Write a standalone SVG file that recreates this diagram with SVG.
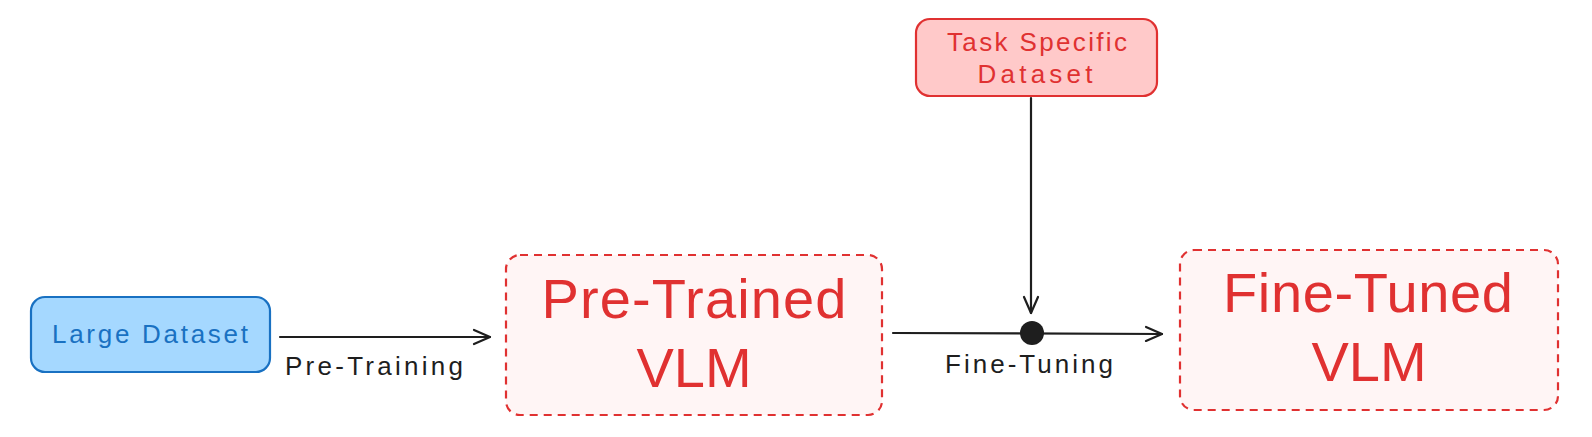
<svg xmlns="http://www.w3.org/2000/svg" width="1592" height="437" viewBox="0 0 1592 437">
<style>
.t{font-family:"Liberation Sans","Open Sans",sans-serif;text-anchor:middle;dominant-baseline:central}
.lbl{font-size:26px;fill:#1e1e1e}
.big{font-size:56px;fill:#e03131}
.c{stroke:#1e1e1e;stroke-width:2.2;fill:none;stroke-linecap:round}
.dash{fill:#fff5f5;stroke:#e03131;stroke-width:2.2;stroke-dasharray:8 6}
</style>
<defs>
<marker id="ah" viewBox="0 0 20 20" refX="18" refY="10" markerWidth="20" markerHeight="20" markerUnits="userSpaceOnUse" orient="auto">
<path d="M2 3 L18 10 L2 17" fill="none" stroke="#1e1e1e" stroke-width="2.2" stroke-linecap="round" stroke-linejoin="round"/>
</marker>
</defs>
<rect width="1592" height="437" fill="#ffffff"/>
<g id="connectors">
<line class="c" x1="280" y1="337" x2="490" y2="337" marker-end="url(#ah)"/>
<line class="c" x1="893" y1="333" x2="1162" y2="334" marker-end="url(#ah)"/>
<line class="c" x1="1031" y1="98" x2="1031" y2="313" marker-end="url(#ah)"/>
<circle cx="1032" cy="333" r="12" fill="#1e1e1e"/>
<text class="t lbl" x="374" y="366" textLength="178">Pre-Training</text>
<text class="t lbl" x="1029" y="364" textLength="168">Fine-Tuning</text>
</g>
<g id="large-dataset">
<rect x="31" y="297" width="239" height="75" rx="14" fill="#a5d8ff" stroke="#1971c2" stroke-width="2.2"/>
<text class="t" x="150" y="334" font-size="26" fill="#1971c2" textLength="196">Large Dataset</text>
</g>
<g id="pre-trained">
<rect class="dash" x="506" y="255" width="376" height="160" rx="14"/>
<text class="t big" x="694" y="298" textLength="305">Pre-Trained</text>
<text class="t big" x="694" y="367">VLM</text>
</g>
<g id="task-dataset">
<rect x="916" y="19" width="241" height="77" rx="14" fill="#ffc9c9" stroke="#e03131" stroke-width="2.2"/>
<text class="t" x="1037" y="42" font-size="26" fill="#e03131" textLength="180">Task Specific</text>
<text class="t" x="1035" y="74" font-size="26" fill="#e03131" textLength="115">Dataset</text>
</g>
<g id="fine-tuned">
<rect class="dash" x="1180" y="250" width="378" height="160" rx="14"/>
<text class="t big" x="1368" y="292" textLength="290">Fine-Tuned</text>
<text class="t big" x="1369" y="361">VLM</text>
</g>
</svg>
